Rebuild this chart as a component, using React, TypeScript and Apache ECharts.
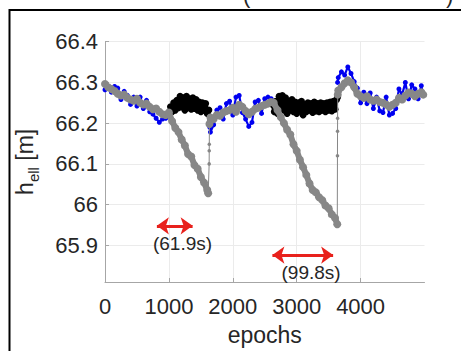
import React, { useEffect, useRef } from "react";
import * as echarts from "echarts";

// gray solution (drifts during the two outages), [epoch, h_ell]
const GRAY_1: [number, number][] = [
  [0, 66.296], [50, 66.288], [100, 66.284], [150, 66.279], [200, 66.272], [250, 66.268],
  [300, 66.27], [350, 66.262], [400, 66.258], [450, 66.255], [500, 66.26], [550, 66.25],
  [600, 66.246], [650, 66.248], [700, 66.24], [750, 66.234], [800, 66.236], [850, 66.228],
  [900, 66.222], [950, 66.22], [1000, 66.226], [1050, 66.205], [1100, 66.188], [1150, 66.178],
  [1200, 66.16], [1250, 66.145], [1300, 66.124], [1350, 66.118], [1400, 66.097], [1450, 66.088],
  [1500, 66.068], [1550, 66.054], [1600, 66.036], [1615, 66.028],
];
// convergence right after outage 1
const GRAY_JUMP_1: [number, number][] = [
  [1615, 66.028], [1630, 66.1], [1631, 66.132], [1632, 66.148], [1634, 66.198],
];
const GRAY_2: [number, number][] = [
  [1634, 66.198], [1650, 66.214], [1700, 66.21], [1750, 66.22], [1800, 66.218],
  [1850, 66.226], [1900, 66.23], [1950, 66.232], [2000, 66.238], [2050, 66.228], [2100, 66.245],
  [2150, 66.24], [2200, 66.23], [2250, 66.222], [2300, 66.228], [2350, 66.235], [2400, 66.238],
  [2450, 66.242], [2500, 66.245], [2550, 66.248], [2600, 66.252], [2640, 66.25], [2700, 66.232],
  [2750, 66.215], [2800, 66.2], [2850, 66.184], [2900, 66.172], [2950, 66.148], [3000, 66.132],
  [3050, 66.11], [3100, 66.092], [3150, 66.073], [3200, 66.052], [3250, 66.036], [3300, 66.03],
  [3350, 66.018], [3400, 66.011], [3450, 65.998], [3500, 65.991], [3550, 65.976], [3600, 65.967],
  [3635, 65.952],
];
// convergence right after outage 2
const GRAY_JUMP_2: [number, number][] = [
  [3635, 65.952], [3638, 66.12], [3639, 66.18], [3640, 66.212], [3642, 66.27],
];
const GRAY_3: [number, number][] = [
  [3642, 66.27], [3650, 66.28],
  [3700, 66.288], [3750, 66.298], [3800, 66.305], [3850, 66.3], [3900, 66.288], [3950, 66.272],
  [4000, 66.266], [4050, 66.262], [4100, 66.266], [4150, 66.258], [4200, 66.255], [4250, 66.258],
  [4300, 66.252], [4350, 66.25], [4400, 66.246], [4450, 66.24], [4500, 66.245], [4550, 66.25],
  [4600, 66.262], [4650, 66.258], [4700, 66.268], [4750, 66.275], [4800, 66.272], [4850, 66.266],
  [4900, 66.272], [4950, 66.276], [4980, 66.27],
];

// blue reference, missing during the outages
const BLUE_1: [number, number][] = [
  [0, 66.282], [50, 66.29], [100, 66.276], [150, 66.29], [200, 66.286], [250, 66.258],
  [300, 66.278], [350, 66.268], [400, 66.246], [450, 66.264], [500, 66.242], [550, 66.264],
  [600, 66.236], [650, 66.256], [700, 66.228], [750, 66.222], [800, 66.212], [850, 66.202],
  [900, 66.21], [950, 66.212], [1000, 66.228],
];
const BLUE_2: [number, number][] = [
  [1640, 66.19], [1650, 66.178], [1700, 66.196], [1750, 66.232], [1800, 66.238], [1850, 66.21],
  [1900, 66.248], [1950, 66.254], [2000, 66.22], [2050, 66.264], [2100, 66.268], [2150, 66.226],
  [2200, 66.21], [2250, 66.192], [2300, 66.202], [2350, 66.252], [2400, 66.256], [2450, 66.224],
  [2500, 66.26], [2550, 66.264], [2600, 66.26], [2640, 66.245],
];
const BLUE_3: [number, number][] = [
  [3640, 66.3], [3650, 66.312], [3700, 66.326], [3750, 66.318], [3800, 66.338], [3850, 66.322],
  [3900, 66.302], [3950, 66.286], [4000, 66.25], [4050, 66.276], [4100, 66.248], [4150, 66.274],
  [4200, 66.236], [4250, 66.264], [4300, 66.23], [4350, 66.226], [4400, 66.264], [4450, 66.22],
  [4500, 66.224], [4550, 66.236], [4600, 66.284], [4650, 66.27], [4700, 66.3], [4750, 66.26],
  [4800, 66.294], [4850, 66.284], [4900, 66.26], [4950, 66.292], [4980, 66.268],
];

// black solution during the outages
const BLACK_1: [number, number][] = [
  [1000, 66.226], [1025, 66.24], [1050, 66.228], [1075, 66.25], [1100, 66.232], [1125, 66.256],
  [1150, 66.238], [1175, 66.266], [1200, 66.24], [1225, 66.262], [1250, 66.232], [1275, 66.266],
  [1300, 66.238], [1325, 66.26], [1350, 66.234], [1375, 66.262], [1400, 66.236], [1425, 66.258],
  [1450, 66.232], [1475, 66.252], [1500, 66.228], [1525, 66.25], [1550, 66.232], [1575, 66.248],
  [1600, 66.224], [1625, 66.232],
];
const BLACK_2: [number, number][] = [
  [2625, 66.245], [2650, 66.228], [2675, 66.254], [2700, 66.224], [2725, 66.266], [2750, 66.236],
  [2775, 66.268], [2800, 66.232], [2825, 66.262], [2850, 66.224], [2875, 66.254], [2900, 66.232],
  [2925, 66.258], [2950, 66.228], [2975, 66.252], [3000, 66.224], [3025, 66.25], [3050, 66.23],
  [3075, 66.254], [3100, 66.22], [3125, 66.244], [3150, 66.228], [3175, 66.25], [3200, 66.232],
  [3225, 66.248], [3250, 66.226], [3275, 66.252], [3300, 66.23], [3325, 66.248], [3350, 66.228],
  [3375, 66.25], [3400, 66.232], [3425, 66.248], [3450, 66.228], [3475, 66.25], [3500, 66.232],
  [3525, 66.252], [3550, 66.23], [3575, 66.254], [3600, 66.234], [3625, 66.258], [3640, 66.264],
];

// outage annotations: [startEpoch, endEpoch, h], label [epoch, h, text]
const OUTAGE_ARROWS: [number, number, number][] = [
  [812, 1371, 65.948],
  [2620, 3570, 65.876],
];
const OUTAGE_LABELS: [number, number, string][] = [
  [1213, 65.904, "(61.9s)"],
  [3225, 65.833, "(99.8s)"],
];

const FONT = "'Liberation Sans', Arial, sans-serif";
const TXT = "#262626";
const AXIS = "#a6a6a6";
const GRAY = "#878787";
const BLUE = "#0000f0";

export default function App() {
  const ref = useRef<HTMLDivElement>(null);
  useEffect(() => {
    if (!ref.current) return;
    const chart = echarts.init(ref.current, null, { renderer: "svg" });
    const lineSeries = (data: any[], color: string, size: number, width: number, z: number) => ({
      type: "line",
      data,
      symbol: "circle",
      symbolSize: size,
      showSymbol: true,
      itemStyle: { color },
      lineStyle: { color, width },
      z,
      silent: true,
    });
    const jump = (data: [number, number][]) => ({
      ...lineSeries(
        data.map((p, i) => (i === 0 || i === data.length - 1 ? { value: p, symbolSize: 0 } : p)),
        GRAY,
        3.5,
        1,
        4
      ),
    });
    chart.setOption({
      animation: false,
      grid: { left: 105, right: 36.5, top: 41.7, bottom: 63.7 },
      xAxis: {
        type: "value",
        min: 0,
        max: 5000,
        interval: 1000,
        name: "epochs",
        nameLocation: "middle",
        nameGap: 41,
        nameTextStyle: { fontSize: 23, color: TXT, fontFamily: FONT },
        axisLine: { show: true, lineStyle: { color: AXIS, width: 1 } },
        axisTick: { show: true, inside: true, length: 4, lineStyle: { color: AXIS } },
        axisLabel: {
          fontSize: 22,
          color: TXT,
          fontFamily: FONT,
          margin: 13,
          showMaxLabel: false,
          formatter: (v: number) => String(v),
        },
        splitLine: { show: true, showMaxLine: false, lineStyle: { color: "#ebebeb", width: 1 } },
      },
      yAxis: {
        type: "value",
        min: 65.81,
        max: 66.4,
        splitNumber: 6,
        name: "{m|h}{s|ell}{m| [m]}",
        nameLocation: "middle",
        nameGap: 64,
        nameTextStyle: {
          color: TXT,
          fontFamily: FONT,
          rich: {
            m: { fontSize: 23, color: TXT, fontFamily: FONT },
            s: { fontSize: 15, color: TXT, fontFamily: FONT, padding: [18, 0, 0, 0] },
          },
        },
        axisLine: { show: true, lineStyle: { color: AXIS, width: 1 } },
        axisTick: { show: true, inside: true, length: 4, lineStyle: { color: AXIS } },
        axisLabel: { fontSize: 22, color: TXT, fontFamily: FONT, margin: 7, showMinLabel: false },
        splitLine: { show: true, showMinLine: false, lineStyle: { color: "#ebebeb", width: 1 } },
      },
      series: [
        lineSeries(BLUE_1, BLUE, 5, 2.2, 2),
        lineSeries(BLUE_2, BLUE, 5, 2.2, 2),
        lineSeries(BLUE_3, BLUE, 5, 2.2, 2),
        lineSeries(BLACK_1, "#000000", 7, 4, 3),
        lineSeries(BLACK_2, "#000000", 7, 4, 3),
        lineSeries(GRAY_1, GRAY, 8, 6, 4),
        jump(GRAY_JUMP_1),
        lineSeries(GRAY_2, GRAY, 8, 6, 4),
        jump(GRAY_JUMP_2),
        {
          ...lineSeries(GRAY_3, GRAY, 8, 6, 4),
          markLine: {
            silent: true,
            symbol: ["arrow", "arrow"],
            symbolSize: [13, 12],
            label: { show: false },
            lineStyle: { color: "#e8211c", width: 3, type: "solid" },
            data: OUTAGE_ARROWS.map(([a, b, h]) => [{ coord: [a, h] }, { coord: [b, h] }]),
          },
          markPoint: {
            silent: true,
            symbol: "circle",
            symbolSize: 0,
            data: OUTAGE_LABELS.map(([e, h, t]) => ({
              coord: [e, h],
              label: {
                show: true,
                position: "inside",
                formatter: t,
                fontSize: 19,
                color: TXT,
                fontFamily: FONT,
              },
            })),
          },
        },
      ],
      graphic: [
        {
          type: "rect",
          shape: { x: 9.5, y: 10, width: 600, height: 600 },
          style: { fill: "none", stroke: "#000", lineWidth: 2 },
          silent: true,
        },
        {
          type: "text",
          x: 243,
          y: 6,
          style: { text: "(", fontSize: 22, fill: TXT, fontFamily: FONT, textVerticalAlign: "bottom" },
        },
        {
          type: "text",
          x: 446,
          y: 6,
          style: { text: ")", fontSize: 22, fill: TXT, fontFamily: FONT, textVerticalAlign: "bottom" },
        },
      ],
    });
    return () => chart.dispose();
  }, []);
  return (
    <div
      ref={ref}
      style={{ position: "fixed", left: 0, top: 0, width: 461, height: 351, background: "#fff" }}
    />
  );
}
